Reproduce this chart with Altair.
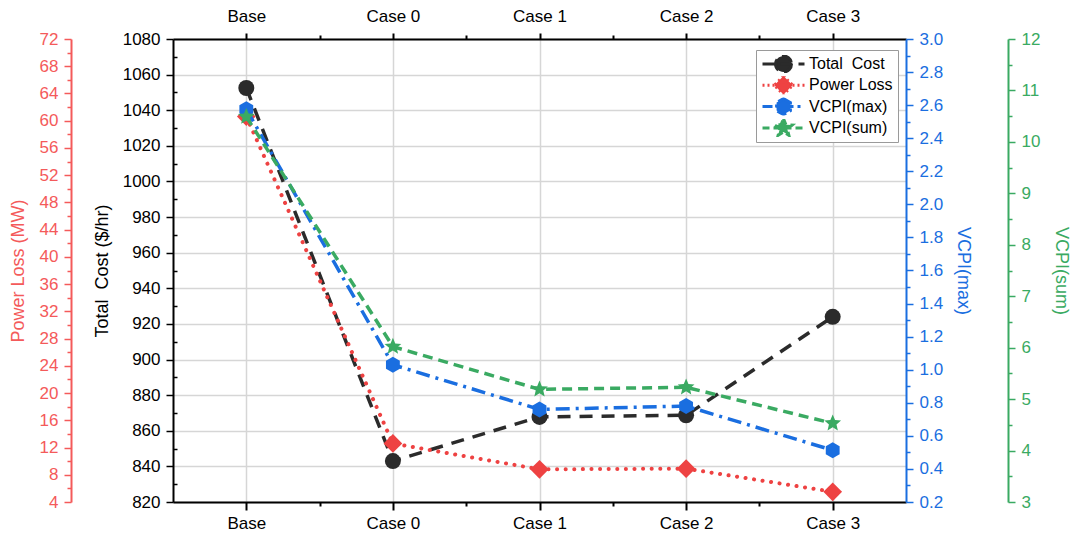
import math
import json
import altair as alt
import pandas as pd

# ---------------- data ----------------
categories = ["Base", "Case 0", "Case 1", "Case 2", "Case 3"]
total_cost = [1052.5, 843.0, 867.8, 868.7, 924.0]
power_loss = [60.6, 12.6, 8.8, 8.9, 5.5]
vcpi_max = [2.575, 1.03, 0.76, 0.78, 0.513]
vcpi_sum = [10.49, 6.02, 5.19, 5.23, 4.53]
series_names = ["Total\u00a0 Cost", "Power Loss", "VCPI(max)", "VCPI(sum)"]

cost_ticks = list(range(820, 1081, 20))
cost_minor = list(range(830, 1080, 20))
loss_ticks = list(range(4, 73, 4))
loss_minor = list(range(6, 72, 4))
vmax_ticks = [round(0.2 + 0.2 * i, 1) for i in range(15)]
vmax_minor = [round(0.3 + 0.2 * i, 1) for i in range(14)]
vsum_ticks = list(range(3, 13))
vsum_minor = [3.5 + i for i in range(9)]
x_major = list(range(len(categories)))
x_minor = [i + 0.5 for i in range(len(categories) - 1)]

df = pd.DataFrame({
    "idx": x_major,
    "cat": categories,
    "cost": total_cost,
    "loss": power_loss,
    "vmax": vcpi_max,
    "vsum": vcpi_sum,
})

# ---------------- style ----------------
BLACK = "#2b2b2b"
RED = "#ee4242"
RED_AX = "#f45a5a"
BLUE = "#1a6ee0"
GREEN = "#3aaa62"
GRID = "#d6d6d6"
FONT = "Liberation Sans"

W, H = 733, 463


def hexagon(cx=0.0, r=1.0):
    pts = []
    for k in range(6):
        a = math.radians(-90 + 60 * k)
        pts.append((cx + r * math.cos(a), r * math.sin(a)))
    return "M" + " L".join(f"{x:.3f},{y:.3f}" for x, y in pts) + " Z"


def star(cx=0.0, R=1.0, r=0.45):
    pts = []
    for k in range(10):
        a = math.radians(-90 + 36 * k)
        rr = R if k % 2 == 0 else r
        pts.append((cx + rr * math.cos(a), rr * math.sin(a)))
    return "M" + " L".join(f"{x:.3f},{y:.3f}" for x, y in pts) + " Z"


def diamond(cx=0.0, r=1.0):
    return f"M{cx},{-r} L{cx + r},0 L{cx},{r} L{cx - r},0 Z"


def circle(cx=0.0, r=1.0):
    return f"M{cx + r},0 A{r},{r} 0 1,1 {cx - r},0 A{r},{r} 0 1,1 {cx + r},0 Z"


labels_js = json.dumps(categories)
label_expr = f"{labels_js}[round(datum.value)]"

xscale = alt.Scale(domain=[-0.5, len(categories) - 0.5], nice=False, zero=False)


def x_axis(orient, grid, tick_size, label_pad):
    return alt.Axis(orient=orient, values=x_major, labelExpr=label_expr,
                    title=None, grid=grid, gridColor=GRID, gridWidth=1.5,
                    domainColor="#000", domainWidth=2, tickColor="#000", tickWidth=2,
                    tickSize=tick_size, labelFontSize=17, labelColor="#000",
                    labelPadding=label_pad, labelFont=FONT)


def x_minor_axis(orient):
    return alt.Axis(orient=orient, values=x_minor, labels=False, title=None, grid=False,
                    domain=False, tickColor="#000", tickWidth=2, tickSize=4)


def y_axis(orient, offset, values, title, color, fmt, title_pad, grid=False):
    return alt.Axis(orient=orient, offset=offset, values=values, title=title, format=fmt,
                    grid=grid, gridColor=GRID, gridWidth=1.5,
                    domainColor=color, domainWidth=2, tickColor=color, tickWidth=1.5,
                    tickSize=7, labelColor=color, titleColor=color, labelFontSize=17,
                    titleFontSize=18, titleFontWeight="normal", labelPadding=6,
                    titlePadding=title_pad, labelFont=FONT, titleFont=FONT)


def y_minor_axis(orient, offset, values, color):
    return alt.Axis(orient=orient, offset=offset, values=values, labels=False, title=None,
                    grid=False, domain=False, tickColor=color, tickWidth=1.5, tickSize=4)


def series(field, color, dash, width, cap, shape, size, dom, yaxis, xaxis, yminor, xminor):
    yscale = alt.Scale(domain=dom, nice=False, zero=False)
    main = alt.Chart(df).mark_line(
        color=color, strokeDash=dash, strokeWidth=width, strokeCap=cap,
        point=alt.OverlayMarkDef(filled=True, shape=shape, size=size, color=color, opacity=1),
    ).encode(
        x=alt.X("idx:Q", scale=xscale, axis=xaxis),
        y=alt.Y(f"{field}:Q", scale=yscale, axis=yaxis),
    )
    minor = alt.Chart(df).mark_line(opacity=0).encode(
        x=alt.X("idx:Q", scale=xscale, axis=xminor),
        y=alt.Y(f"{field}:Q", scale=yscale, axis=yminor),
    )
    return alt.layer(main, minor).resolve_axis(x="independent", y="independent")


cost_layer = series("cost", BLACK, [13, 9], 3.5, "butt", "circle", 256, [820, 1080],
                    y_axis("left", 0, cost_ticks, "Total\u00a0 Cost ($/hr)", "#000", "d", 11, grid=True),
                    x_axis("bottom", True, 8, 5),
                    y_minor_axis("right", -W, cost_minor, "#000"),
                    x_minor_axis("bottom"))
loss_layer = series("loss", RED, [0.1, 8.5], 4, "round", diamond(), 350, [4, 72],
                    y_axis("left", 102, loss_ticks, "Power Loss (MW)", RED_AX, "d", 12),
                    x_axis("top", False, 6, 8),
                    y_minor_axis("left", 102, loss_minor, RED_AX),
                    x_minor_axis("top"))
vmax_layer = series("vmax", BLUE, [14, 6, 3, 6], 3.5, "butt", hexagon(), 256, [0.2, 3.0],
                    y_axis("right", 0, vmax_ticks, "VCPI(max)", BLUE, ".1f", 11), None,
                    y_minor_axis("right", 0, vmax_minor, BLUE), None)
vsum_layer = series("vsum", GREEN, [10, 6], 3.5, "butt", star(), 310, [3, 12],
                    y_axis("right", 102, vsum_ticks, "VCPI(sum)", GREEN, "d", 12), None,
                    y_minor_axis("right", 102, vsum_minor, GREEN), None)

# legend symbols: line segment + marker, unit = 8 px
leg_shapes = [
    "M-1,0 H4.25 " + circle(1.625),
    "M-1,0 H4.25 " + diamond(1.625, 1.15),
    "M-1,0 H4.25 " + hexagon(1.625),
    "M-1,0 H4.25 " + star(1.625, 1.15, 0.5),
]
leg_colors = [BLACK, RED, BLUE, GREEN]
leg_dashes = [[12, 6], [2, 3], [10, 4, 3, 4], [7, 4]]

legend = alt.Legend(title=None, orient="none", legendX=583, legendY=11,
                    fillColor="white", strokeColor="#9a9a9a", padding=5,
                    symbolSize=256, symbolStrokeWidth=3, labelFontSize=16,
                    labelFont=FONT, labelColor="#000", labelOffset=29, rowPadding=3.3,
                    clipHeight=18, symbolLimit=10)

leg_df = pd.DataFrame({"s": series_names})
legend_layer = alt.Chart(leg_df).mark_point(filled=True, opacity=1).encode(
    fill=alt.Fill("s:N", scale=alt.Scale(domain=series_names, range=leg_colors), legend=legend),
    stroke=alt.Stroke("s:N", scale=alt.Scale(domain=series_names, range=leg_colors), legend=legend),
    shape=alt.Shape("s:N", scale=alt.Scale(domain=series_names, range=leg_shapes), legend=legend),
    strokeDash=alt.StrokeDash("s:N", scale=alt.Scale(domain=series_names, range=leg_dashes), legend=legend),
).transform_filter("false")

chart = alt.layer(cost_layer, loss_layer, vmax_layer, vsum_layer, legend_layer).resolve_scale(
    y="independent"
).resolve_axis(
    x="independent", y="independent"
).properties(
    width=W, height=H,
    autosize=alt.AutoSizeParams(type="none"),
    padding={"left": 173, "top": 39, "right": 1073 - 173 - W, "bottom": 539 - 39 - H},
    background="white",
).configure_view(
    stroke="#000", strokeWidth=2
).configure(font=FONT)

chart.save("out.html", embed_options={"renderer": "svg", "actions": False})
